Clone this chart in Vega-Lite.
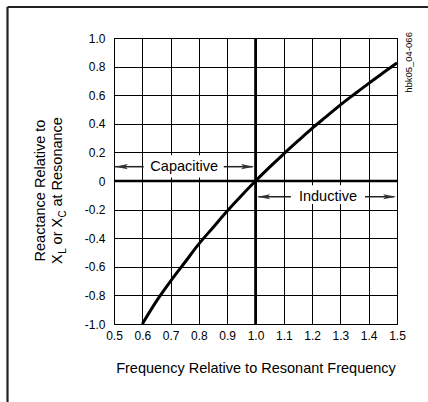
{
  "$schema": "https://vega.github.io/schema/vega-lite/v6.json",
  "width": 283,
  "height": 286,
  "autosize": {"type": "none"},
  "padding": {"left": 114, "top": 38, "right": 31, "bottom": 78},
  "background": "white",
  "config": {
    "font": "Liberation Sans",
    "view": {"stroke": "#000", "strokeWidth": 1},
    "axis": {
      "ticks": false,
      "tickSize": 0,
      "domain": false,
      "grid": true,
      "gridColor": "#000",
      "gridOpacity": 1,
      "gridWidth": 1,
      "labelFont": "Liberation Sans",
      "labelFontSize": 12,
      "labelColor": "#000",
      "labelFlush": false,
      "labelOverlap": false,
      "labelBound": false,
      "titleFont": "Liberation Sans",
      "titleFontSize": 14.5,
      "titleFontWeight": "normal",
      "titleColor": "#000"
    }
  },
  "datasets": {
    "curve": [
      {"x": 0.6, "y": -1.0},
      {"x": 0.65, "y": -0.84},
      {"x": 0.7, "y": -0.7},
      {"x": 0.75, "y": -0.57},
      {"x": 0.8, "y": -0.44},
      {"x": 0.85, "y": -0.325},
      {"x": 0.9, "y": -0.21},
      {"x": 0.95, "y": -0.103},
      {"x": 1.0, "y": 0.0},
      {"x": 1.05, "y": 0.097},
      {"x": 1.1, "y": 0.19},
      {"x": 1.15, "y": 0.28},
      {"x": 1.2, "y": 0.368},
      {"x": 1.25, "y": 0.45},
      {"x": 1.3, "y": 0.532},
      {"x": 1.35, "y": 0.608},
      {"x": 1.4, "y": 0.683},
      {"x": 1.45, "y": 0.755},
      {"x": 1.5, "y": 0.826}
    ],
    "cross": [
      {"x": 0.5, "x2": 1.5, "y": 0, "y2": 0},
      {"x": 1.0, "x2": 1.0, "y": -1, "y2": 1}
    ],
    "boxes": [
      {"x": 0.605, "x2": 0.888, "y": 0.025, "y2": 0.18},
      {"x": 1.125, "x2": 1.387, "y": -0.03, "y2": -0.16}
    ],
    "shafts": [
      {"x": 0.5, "x2": 0.605, "y": 0.1},
      {"x": 0.888, "x2": 0.99, "y": 0.1},
      {"x": 1.01, "x2": 1.125, "y": -0.11},
      {"x": 1.387, "x2": 1.49, "y": -0.11}
    ],
    "heads": [
      {"x": 0.503, "y": 0.1, "dir": "left"},
      {"x": 0.995, "y": 0.1, "dir": "right"},
      {"x": 1.006, "y": -0.11, "dir": "left"},
      {"x": 1.497, "y": -0.11, "dir": "right"}
    ],
    "regions": [
      {"x": 0.748, "y": 0.1, "label": "Capacitive"},
      {"x": 1.256, "y": -0.11, "label": "Inductive"}
    ],
    "code": [
      {"x": 1.543, "y": 0.829, "label": "hbk05_04-066"}
    ],
    "subs": [
      {"x": 0.3304, "y": -0.4888, "label": "L"},
      {"x": 0.3304, "y": -0.23, "label": "C"}
    ],
    "frame": [
      {"x": 0.1237, "x2": 0.1237, "y": 1.2168, "y2": -1.6},
      {"x": 0.1237, "x2": 1.62, "y": 1.2168, "y2": 1.2168}
    ]
  },
  "encoding": {
    "x": {
      "field": "x",
      "type": "quantitative",
      "scale": {"domain": [0.5, 1.5], "nice": false, "zero": false},
      "title": "Frequency Relative to Resonant Frequency",
      "axis": {
        "values": [0.5, 0.6, 0.7, 0.8, 0.9, 1.0, 1.1, 1.2, 1.3, 1.4, 1.5],
        "format": ".1f",
        "labelPadding": 6,
        "titleY": 48,
        "titleBaseline": "alphabetic"
      }
    },
    "y": {
      "field": "y",
      "type": "quantitative",
      "scale": {"domain": [-1, 1], "nice": false, "zero": false},
      "title": ["Reactance Relative to", "X\u2009\u2009 or X\u2002 at Resonance"],
      "axis": {
        "values": [-1, -0.8, -0.6, -0.4, -0.2, 0, 0.2, 0.4, 0.6, 0.8, 1],
        "labelExpr": "datum.value == 0 ? '0' : (datum.value < 0 ? '-' : '') + format(abs(datum.value), '.1f')",
        "labelPadding": 9,
        "titleAngle": 270,
        "titleAlign": "center",
        "titleBaseline": "middle",
        "titleLineHeight": 17,
        "titleX": -74,
        "titleY": 152
      }
    }
  },
  "layer": [
    {
      "data": {"name": "boxes"},
      "mark": {"type": "rect", "fill": "white", "stroke": null},
      "encoding": {"x2": {"field": "x2"}, "y2": {"field": "y2"}}
    },
    {
      "data": {"name": "cross"},
      "mark": {"type": "rule", "stroke": "#000", "strokeWidth": 2.6},
      "encoding": {"x2": {"field": "x2"}, "y2": {"field": "y2"}}
    },
    {
      "data": {"name": "curve"},
      "mark": {"type": "line", "stroke": "#000", "strokeWidth": 3, "interpolate": "monotone"},
      "encoding": {}
    },
    {
      "data": {"name": "shafts"},
      "mark": {"type": "rule", "stroke": "#222", "strokeWidth": 1.5},
      "encoding": {"x2": {"field": "x2"}}
    },
    {
      "data": {"name": "heads"},
      "mark": {"type": "point", "filled": true, "size": 169, "color": "#333", "opacity": 1},
      "encoding": {
        "shape": {
          "field": "dir",
          "type": "nominal",
          "scale": {"domain": ["left", "right"], "range": ["M0,0L2,-0.4L1.6,0L2,0.4Z", "M0,0L-2,-0.4L-1.6,0L-2,0.4Z"]},
          "legend": null
        }
      }
    },
    {
      "data": {"name": "regions"},
      "mark": {"type": "text", "font": "Liberation Sans", "fontSize": 14.5, "color": "#000", "align": "center", "baseline": "middle"},
      "encoding": {"text": {"field": "label"}}
    },
    {
      "data": {"name": "code"},
      "mark": {"type": "text", "font": "Liberation Sans", "fontSize": 9.5, "color": "#000", "align": "center", "baseline": "middle", "angle": 270},
      "encoding": {"text": {"field": "label"}}
    },
    {
      "data": {"name": "subs"},
      "mark": {"type": "text", "font": "Liberation Sans", "fontSize": 10, "color": "#000", "align": "center", "baseline": "alphabetic", "angle": 270},
      "encoding": {"text": {"field": "label"}}
    },
    {
      "data": {"name": "frame"},
      "mark": {"type": "rule", "stroke": "#222", "strokeWidth": 2.2},
      "encoding": {"x2": {"field": "x2"}, "y2": {"field": "y2"}}
    }
  ]
}
